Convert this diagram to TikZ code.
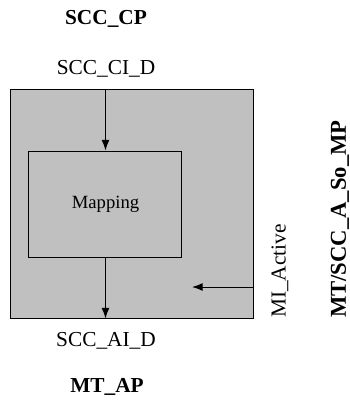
\documentclass[tikz,border=0pt]{standalone}
\usepackage{fontspec}
\setmainfont{Liberation Serif}
\usetikzlibrary{arrows.meta,positioning,shapes}
\definecolor{boxgray}{RGB}{192,192,192}

\begin{document}
\begin{tikzpicture}[x=0.75pt, y=-0.75pt, line width=0.75pt,
  every node/.style={font=\fontsize{16}{19}\selectfont},
  box/.style={draw, fill=boxgray, inner sep=0pt},
  flow/.style={-{Latex[length=8pt,width=6pt]}},
  title/.style={font=\fontsize{16}{19}\selectfont\bfseries}]
\useasboundingbox (0,0) rectangle (350,412);
\node[box, minimum width=182.25pt, minimum height=171.75pt] (outer) at (132.5,203.5) {};
\node[box, minimum width=114.75pt, minimum height=79.5pt, font=\fontsize{14}{17}\selectfont] (mapping) at (105.5,204) {Mapping};
\node[title] (cp) at (106,19) {SCC\_CP};
\node (ci) at (106,69) {SCC\_CI\_D};
\node (ai) at (106,341) {SCC\_AI\_D};
\node[title] (ap) at (107,387) {MT\_AP};
\node[rotate=90] (mi) at (280,271) {MI\_Active};
\node[title, rotate=90, font=\fontsize{17}{20}\selectfont\bfseries] (mp) at (340,219) {MT/SCC\_A\_So\_MP};
\coordinate (ciIn) at (mapping.north |- outer.north);
\coordinate (aiOut) at (mapping.south |- outer.south);
\coordinate (miIn) at (254,287);
\coordinate (miEnd) at (192,287);
\draw[flow] (ciIn) -- (mapping.north);
\draw[flow] (mapping.south) -- (aiOut);
\draw[flow] (miIn) -- (miEnd);
\end{tikzpicture}
\end{document}
